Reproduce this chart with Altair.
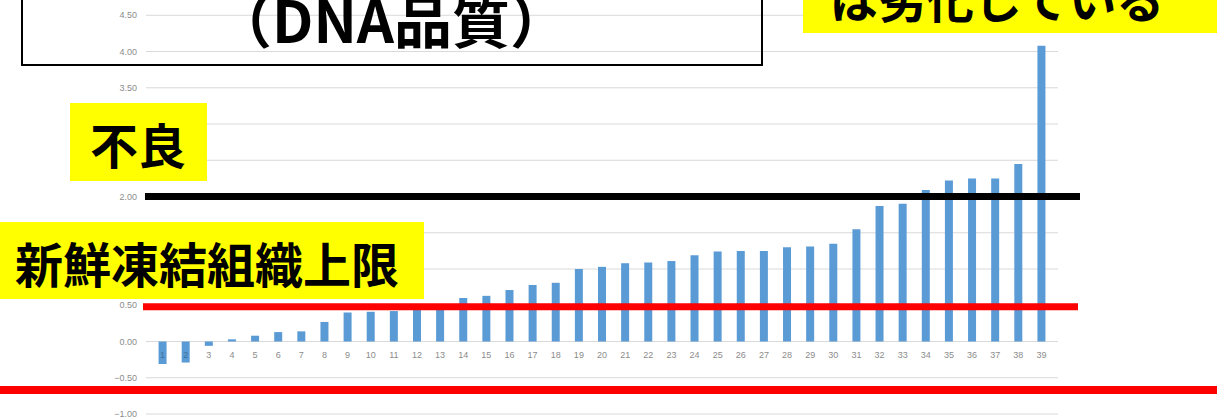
import altair as alt
import pandas as pd

# Sample numbers and their DNA quality score
sample_ids = list(range(1, 40))
dna_scores = [-0.31, -0.29, -0.06, 0.03, 0.08, 0.13, 0.14, 0.27, 0.40, 0.41,
              0.42, 0.45, 0.46, 0.60, 0.63, 0.71, 0.78, 0.81, 1.00, 1.03,
              1.08, 1.09, 1.11, 1.19, 1.24, 1.25, 1.25, 1.30, 1.31, 1.35,
              1.55, 1.87, 1.90, 2.09, 2.22, 2.25, 2.25, 2.45, 4.08]

# Value axis ticks
y_ticks = [-1.0, -0.5, 0.0, 0.5, 1.0, 1.5, 2.0, 2.5, 3.0, 3.5, 4.0, 4.5]

# Reference levels
poor_level = 2.0          # 不良
fresh_frozen_limit = 0.48  # 新鮮凍結組織上限
lower_level = -0.67

W, H = 912, 414
BLUE = "#5b9bd5"
GRID = "#d9d9d9"
LABEL = "#8c8c8c"
LABEL_ON_BAR = "#41719c"
YELLOW = "#ffff00"
JP_FONT = "Noto Sans CJK JP"

xscale = alt.Scale(domain=[0.5, 39.5], nice=False, zero=False)
yscale = alt.Scale(domain=[-1.0, 4.711], nice=False, zero=False)

bars_df = pd.DataFrame({"id": sample_ids, "score": dna_scores})
ticks_df = pd.DataFrame({"tick": y_ticks})

grid = alt.Chart(ticks_df).mark_rule(color=GRID, strokeWidth=1).encode(
    y=alt.Y("tick:Q", scale=yscale, axis=None),
    x=alt.value(0),
    x2=alt.value(W),
)

y_labels = alt.Chart(ticks_df).mark_text(
    align="right", baseline="middle", fontSize=9, color=LABEL, font="Liberation Sans"
).encode(
    y=alt.Y("tick:Q", scale=yscale, axis=None),
    x=alt.value(-9),
    text=alt.Text("tick:Q", format=".2f"),
)

bars = alt.Chart(bars_df).mark_bar(size=8, color=BLUE).encode(
    x=alt.X("id:Q", scale=xscale, axis=None),
    y=alt.Y("score:Q", scale=yscale, axis=None),
    y2=alt.Y2(datum=0),
)

# Category labels sit just under the zero line; those drawn over a negative bar
# take a darker tint so they stay readable
x_labels = alt.Chart(bars_df).transform_calculate(base="0").mark_text(
    baseline="middle", dy=13, fontSize=9, font="Liberation Sans"
).encode(
    x=alt.X("id:Q", scale=xscale, axis=None),
    y=alt.Y("base:Q", scale=yscale, axis=None),
    text=alt.Text("id:Q"),
    color=alt.condition(alt.datum.score < -0.15, alt.value(LABEL_ON_BAR), alt.value(LABEL)),
)


def level_line(value, color, width, x_from, x_to):
    return alt.Chart(pd.DataFrame({"level": [value]})).mark_rule(
        color=color, strokeWidth=width, strokeCap="butt"
    ).encode(
        y=alt.Y("level:Q", scale=yscale, axis=None),
        x=alt.value(x_from),
        x2=alt.value(x_to),
    )


one_row = pd.DataFrame({"k": [0]})


def box(x0, x1, y0, y1, filled=True, stroke_width=0):
    if filled:
        kw = dict(fill=YELLOW, strokeWidth=0)
    else:
        kw = dict(fill="white", fillOpacity=0, stroke="black", strokeWidth=stroke_width)
    return alt.Chart(one_row).mark_rect(**kw).encode(
        x=alt.value(x0), x2=alt.value(x1), y=alt.value(y0), y2=alt.value(y1)
    )


def label(text, x, y, size):
    return alt.Chart(one_row).mark_text(
        text=text, align="center", baseline="alphabetic", fontSize=size,
        fontWeight="bold", font=JP_FONT, color="black"
    ).encode(x=alt.value(x), y=alt.value(y))


chart = alt.layer(
    grid,
    y_labels,
    bars,
    x_labels,
    level_line(poor_level, "black", 7, -1, 934),
    level_line(fresh_frozen_limit, "#ff0000", 7, -3, 932),
    level_line(lower_level, "#ff0000", 8, -146, 1071),
    box(-124, 616, -10, 65, filled=False, stroke_width=2),
    label("（DNA品質）", 245, 43, 58),
    box(657, 1080, -10, 33),
    label("は劣化している", 851, 18, 48),
    box(-76, 61, 103, 181),
    label("不良", -8, 164, 48),
    box(-146, 278, 222, 299),
    label("新鮮凍結組織上限", 61, 283, 48),
).properties(
    width=W,
    height=H,
    padding={"left": 146, "top": 0, "right": 159, "bottom": 6},
    autosize=alt.AutoSizeParams(type="none"),
    background="white",
).configure_view(strokeWidth=0)

chart.save("out.html", embed_options={"renderer": "svg", "actions": False})
